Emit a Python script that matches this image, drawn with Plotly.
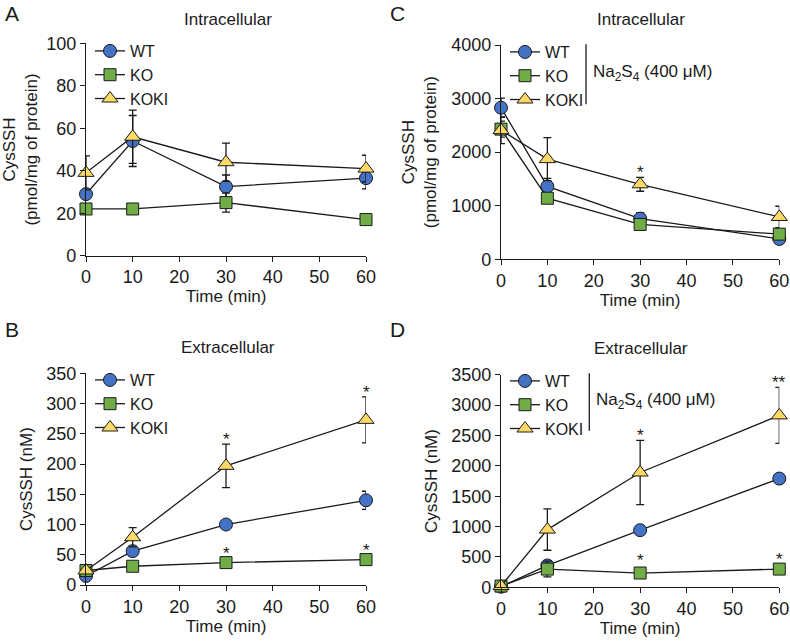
import plotly.graph_objects as go
from plotly.subplots import make_subplots

# time points (min)
time = [0, 10, 30, 60]
series_names = ["WT", "KO", "KOKI"]

# A: intracellular, untreated (pmol/mg of protein)
a_wt = [29, 54, 32.5, 36.5]
a_wt_err = [2, 12, 5.5, 5]
a_ko = [22, 22, 25, 17]
a_ko_err = [1.5, 1.5, 4.5, 1.5]
a_koki = [39, 56, 44, 41]
a_koki_err = [8, 12.5, 9, 6.3]

# B: extracellular, untreated (nM)
b_wt = [15, 56, 100, 140]
b_wt_err = [3, 8, 3, 15]
b_ko = [24, 31, 37, 42]
b_ko_err = [3, 3, 3, 3]
b_koki = [24, 79, 197, 273]
b_koki_err = [4, 16, 36, 38]

# C: intracellular, Na2S4 (pmol/mg of protein)
c_wt = [2830, 1360, 760, 380]
c_wt_err = [180, 150, 110, 60]
c_ko = [2430, 1140, 650, 470]
c_ko_err = [150, 80, 60, 50]
c_koki = [2410, 1870, 1400, 790]
c_koki_err = [250, 400, 130, 200]

# D: extracellular, Na2S4 (nM)
d_wt = [10, 360, 940, 1790]
d_wt_err = [10, 60, 40, 60]
d_ko = [20, 300, 235, 300]
d_ko_err = [10, 130, 80, 40]
d_koki = [20, 950, 1890, 2830]
d_koki_err = [10, 340, 530, 460]

# significance marks: (series, time index, label)
b_stars = [("KOKI", 2, "*"), ("KOKI", 3, "*"), ("KO", 2, "*"), ("KO", 3, "*")]
c_stars = [("KOKI", 2, "*")]
d_stars = [("KOKI", 2, "*"), ("KOKI", 3, "**"), ("KO", 2, "*"), ("KO", 3, "*")]

W, H = 790, 641
FONT = "Arial, Liberation Sans, sans-serif"
INK = "#1a1a1a"

styles = {
    "WT": dict(symbol="circle", size=13, color="#4472C4"),
    "KO": dict(symbol="square", size=12, color="#70AD47"),
    "KOKI": dict(symbol="triangle-up", size=14, color="#FFD966"),
}

panels = [
    # row, col, legend, data, stars
    (1, 1, "legend", {"WT": (a_wt, a_wt_err), "KO": (a_ko, a_ko_err), "KOKI": (a_koki, a_koki_err)}, []),
    (1, 2, "legend2", {"WT": (c_wt, c_wt_err), "KO": (c_ko, c_ko_err), "KOKI": (c_koki, c_koki_err)}, c_stars),
    (2, 1, "legend3", {"WT": (b_wt, b_wt_err), "KO": (b_ko, b_ko_err), "KOKI": (b_koki, b_koki_err)}, b_stars),
    (2, 2, "legend4", {"WT": (d_wt, d_wt_err), "KO": (d_ko, d_ko_err), "KOKI": (d_koki, d_koki_err)}, d_stars),
]

fig = make_subplots(rows=2, cols=2)

for row, col, leg, data, stars in panels:
    for name in series_names:
        vals, errs = data[name]
        st = styles[name]
        fig.add_trace(go.Scatter(
            x=time, y=vals, name=name, mode="lines+markers",
            legend=leg, cliponaxis=False,
            line=dict(color=INK, width=1.3),
            marker=dict(symbol=st["symbol"], size=st["size"], color=st["color"],
                        line=dict(color=INK, width=1)),
            error_y=dict(type="data", array=errs, visible=True, color=INK,
                         thickness=1.3, width=4),
        ), row=row, col=col)
    # stars sit just above the upper error bar
    for name, i, label in stars:
        vals, errs = data[name]
        shift = -4 if name == "KO" else -7
        fig.add_annotation(x=time[i], y=vals[i] + errs[i], text=label, showarrow=False,
                           yanchor="bottom", yshift=shift,
                           font=dict(size=17, color=INK),
                           row=row, col=col)

# axis placement (pixel-based domains)
xd_left = [86 / W, 366 / W]
xd_right = [501 / W, 779.3 / W]
axis_common = dict(showline=True, linecolor=INK, linewidth=1.3, ticks="outside",
                   ticklen=5, tickwidth=1.3, tickcolor=INK, showgrid=False,
                   zeroline=False, automargin=False, tickfont=dict(size=18, color=INK))

for r, c in [(1, 1), (1, 2), (2, 1), (2, 2)]:
    fig.update_xaxes(axis_common, range=[0, 60], tickvals=[0, 10, 20, 30, 40, 50, 60],
                     title=dict(text="Time (min)", font=dict(size=17, color=INK), standoff=3),
                     domain=xd_left if c == 1 else xd_right, row=r, col=c)

fig.update_yaxes(axis_common, range=[0, 100], dtick=20,
                 domain=[1 - 255.7 / H, 1 - 43.3 / H],
                 title=dict(text="CysSSH<br>(pmol/mg of protein)", font=dict(size=17, color=INK), standoff=10),
                 row=1, col=1)
fig.update_yaxes(axis_common, range=[0, 4000], dtick=1000,
                 domain=[1 - 259.3 / H, 1 - 45 / H],
                 title=dict(text="CysSSH<br>(pmol/mg of protein)", font=dict(size=17, color=INK), standoff=10),
                 row=1, col=2)
fig.update_yaxes(axis_common, range=[0, 350], dtick=50,
                 domain=[1 - 585 / H, 1 - 373.3 / H],
                 title=dict(text="CysSSH (nM)", font=dict(size=17, color=INK), standoff=9),
                 row=2, col=1)
fig.update_yaxes(axis_common, range=[0, 3500], dtick=500,
                 domain=[1 - 587.3 / H, 1 - 374.7 / H],
                 title=dict(text="CysSSH (nM)", font=dict(size=17, color=INK), standoff=9),
                 row=2, col=2)

legend_common = dict(bgcolor="rgba(0,0,0,0)", font=dict(size=16, color=INK),
                     xanchor="left", yanchor="top", tracegroupgap=0)
fig.update_layout(
    legend=dict(legend_common, x=90 / W, y=1 - 34 / H),
    legend2=dict(legend_common, x=505 / W, y=1 - 35 / H),
    legend3=dict(legend_common, x=90 / W, y=1 - 363 / H),
    legend4=dict(legend_common, x=505 / W, y=1 - 364 / H),
)

# panel letters and titles
texts = [
    ("A", 3, 14, 21, "left"), ("B", 3, 329, 21, "left"),
    ("C", 388, 14, 21, "left"), ("D", 388, 329, 21, "left"),
    ("Intracellular", 228, 19, 17, "center"), ("Intracellular", 641, 19, 17, "center"),
    ("Extracellular", 228, 347, 17, "center"), ("Extracellular", 641, 348, 17, "center"),
    ("Na<sub>2</sub>S<sub>4</sub> (400 μM)", 591, 73, 17, "left"),
    ("Na<sub>2</sub>S<sub>4</sub> (400 μM)", 594, 401, 17, "left"),
]
for txt, px, py, size, anchor in texts:
    fig.add_annotation(x=px / W, y=1 - py / H, xref="paper", yref="paper",
                       text=txt, showarrow=False, xanchor=anchor, yanchor="middle",
                       font=dict(size=size, color=INK))

for lx, ly0, ly1 in [(586, 44.3, 104.3), (589.3, 373.3, 430.7)]:
    fig.add_shape(type="line", xref="paper", yref="paper",
                  x0=lx / W, x1=lx / W, y0=1 - ly0 / H, y1=1 - ly1 / H,
                  line=dict(color=INK, width=1.3))

fig.update_layout(
    template="none",
    width=W, height=H,
    margin=dict(l=0, r=0, t=0, b=0, autoexpand=False),
    paper_bgcolor="white", plot_bgcolor="white",
    font=dict(family=FONT, color=INK),
    showlegend=True,
)

# drop the default body margin so the 790x641 figure fills the window exactly
fig.write_html("out.html", config={"displayModeBar": False},
               post_script="document.body.style.margin='0';document.body.style.overflow='hidden';")
